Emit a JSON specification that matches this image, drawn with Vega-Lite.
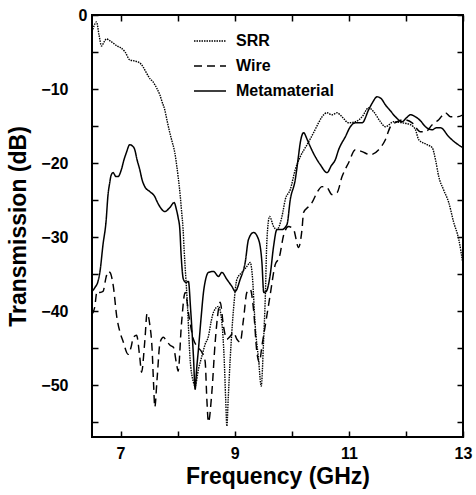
{
  "$schema": "https://vega.github.io/schema/vega-lite/v6.json",
  "width": 371,
  "height": 422,
  "autosize": {"type": "none"},
  "padding": {"left": 92, "top": 15, "right": 13, "bottom": 58},
  "background": "white",
  "config": {
    "view": {"stroke": "black", "strokeWidth": 2},
    "font": "Liberation Sans",
    "axis": {
      "domain": false,
      "tickColor": "black", "tickWidth": 1.5, "tickSize": 6, "offset": -6,
      "labelFont": "Liberation Sans", "labelFontSize": 16, "labelFontWeight": "bold", "labelColor": "black",
      "labelFlush": false, "labelOverlap": false,
      "titleFont": "Liberation Sans", "titleFontSize": 23, "titleFontWeight": "bold", "titleColor": "black",
      "grid": false
    }
  },
  "data": {"values": [
    {"series":"SRR","freq":6.5,"db":-2.29},{"series":"SRR","freq":6.535,"db":-1.48},{"series":"SRR","freq":6.579,"db":-0.94},{"series":"SRR","freq":6.623,"db":-2.7},{"series":"SRR","freq":6.667,"db":-4.18},{"series":"SRR","freq":6.711,"db":-3.64},{"series":"SRR","freq":6.754,"db":-3.23},{"series":"SRR","freq":6.816,"db":-3.5},{"series":"SRR","freq":6.868,"db":-3.77},{"series":"SRR","freq":6.939,"db":-4.18},{"series":"SRR","freq":7.009,"db":-4.45},{"series":"SRR","freq":7.079,"db":-4.99},{"series":"SRR","freq":7.161,"db":-6.06},{"series":"SRR","freq":7.237,"db":-6.2},{"series":"SRR","freq":7.337,"db":-6.47},{"series":"SRR","freq":7.395,"db":-7.01},{"series":"SRR","freq":7.453,"db":-7.82},{"series":"SRR","freq":7.518,"db":-8.63},{"series":"SRR","freq":7.57,"db":-9.03},{"series":"SRR","freq":7.64,"db":-9.97},{"series":"SRR","freq":7.688,"db":-10.78},{"series":"SRR","freq":7.728,"db":-11.73},{"series":"SRR","freq":7.775,"db":-12.8},{"series":"SRR","freq":7.816,"db":-14.29},{"series":"SRR","freq":7.863,"db":-15.9},{"series":"SRR","freq":7.904,"db":-17.12},{"series":"SRR","freq":7.951,"db":-18.6},{"series":"SRR","freq":7.982,"db":-20.22},{"series":"SRR","freq":8.009,"db":-21.83},{"series":"SRR","freq":8.044,"db":-24.26},{"series":"SRR","freq":8.067,"db":-26.28},{"series":"SRR","freq":8.096,"db":-28.98},{"series":"SRR","freq":8.114,"db":-31.67},{"series":"SRR","freq":8.14,"db":-35.04},{"series":"SRR","freq":8.167,"db":-38.41},{"series":"SRR","freq":8.219,"db":-46.5},{"series":"SRR","freq":8.272,"db":-49.46},{"series":"SRR","freq":8.307,"db":-50.13},{"series":"SRR","freq":8.365,"db":-47.84},{"series":"SRR","freq":8.425,"db":-46.09},{"series":"SRR","freq":8.482,"db":-44.47},{"series":"SRR","freq":8.54,"db":-43.4},{"series":"SRR","freq":8.588,"db":-41.37},{"series":"SRR","freq":8.628,"db":-40.16},{"series":"SRR","freq":8.716,"db":-39.35},{"series":"SRR","freq":8.775,"db":-41.51},{"series":"SRR","freq":8.816,"db":-46.5},{"series":"SRR","freq":8.842,"db":-51.89},{"series":"SRR","freq":8.863,"db":-55.53},{"series":"SRR","freq":8.886,"db":-51.89},{"series":"SRR","freq":8.921,"db":-46.5},{"series":"SRR","freq":8.979,"db":-39.76},{"series":"SRR","freq":9.039,"db":-35.71},{"series":"SRR","freq":9.126,"db":-34.77},{"series":"SRR","freq":9.214,"db":-33.96},{"series":"SRR","freq":9.272,"db":-33.42},{"series":"SRR","freq":9.307,"db":-35.04},{"series":"SRR","freq":9.36,"db":-42.05},{"series":"SRR","freq":9.418,"db":-46.5},{"series":"SRR","freq":9.465,"db":-50.13},{"series":"SRR","freq":9.505,"db":-44.2},{"series":"SRR","freq":9.535,"db":-38.41},{"series":"SRR","freq":9.565,"db":-30.32},{"series":"SRR","freq":9.611,"db":-27.22},{"series":"SRR","freq":9.681,"db":-28.57},{"series":"SRR","freq":9.74,"db":-28.98},{"series":"SRR","freq":9.828,"db":-27.22},{"series":"SRR","freq":9.886,"db":-24.93},{"series":"SRR","freq":9.974,"db":-23.58},{"series":"SRR","freq":10.061,"db":-20.89},{"series":"SRR","freq":10.149,"db":-19.14},{"series":"SRR","freq":10.267,"db":-17.52},{"series":"SRR","freq":10.382,"db":-15.9},{"series":"SRR","freq":10.47,"db":-14.56},{"series":"SRR","freq":10.53,"db":-13.75},{"series":"SRR","freq":10.618,"db":-13.21},{"series":"SRR","freq":10.705,"db":-13.48},{"series":"SRR","freq":10.793,"db":-13.21},{"series":"SRR","freq":10.881,"db":-13.75},{"series":"SRR","freq":10.996,"db":-14.56},{"series":"SRR","freq":11.114,"db":-14.42},{"series":"SRR","freq":11.232,"db":-13.75},{"series":"SRR","freq":11.347,"db":-12.53},{"series":"SRR","freq":11.435,"db":-13.07},{"series":"SRR","freq":11.553,"db":-14.42},{"series":"SRR","freq":11.64,"db":-15.09},{"series":"SRR","freq":11.786,"db":-14.42},{"series":"SRR","freq":11.933,"db":-14.56},{"series":"SRR","freq":12.079,"db":-14.82},{"series":"SRR","freq":12.167,"db":-15.5},{"series":"SRR","freq":12.225,"db":-16.85},{"series":"SRR","freq":12.372,"db":-17.52},{"series":"SRR","freq":12.46,"db":-17.92},{"series":"SRR","freq":12.518,"db":-19.54},{"series":"SRR","freq":12.575,"db":-21.83},{"series":"SRR","freq":12.658,"db":-23.58},{"series":"SRR","freq":12.751,"db":-25.34},{"series":"SRR","freq":12.833,"db":-27.9},{"series":"SRR","freq":12.926,"db":-30.32},{"series":"SRR","freq":13.0,"db":-33.69},
    {"series":"Wire","freq":6.5,"db":-40.43},{"series":"Wire","freq":6.547,"db":-39.49},{"series":"Wire","freq":6.588,"db":-37.33},{"series":"Wire","freq":6.64,"db":-37.47},{"series":"Wire","freq":6.693,"db":-37.33},{"series":"Wire","freq":6.746,"db":-35.44},{"series":"Wire","freq":6.781,"db":-34.64},{"series":"Wire","freq":6.816,"db":-34.77},{"series":"Wire","freq":6.874,"db":-36.66},{"series":"Wire","freq":6.933,"db":-40.7},{"series":"Wire","freq":6.991,"db":-42.86},{"series":"Wire","freq":7.044,"db":-44.07},{"series":"Wire","freq":7.132,"db":-45.82},{"series":"Wire","freq":7.184,"db":-44.88},{"series":"Wire","freq":7.225,"db":-43.53},{"series":"Wire","freq":7.281,"db":-43.26},{"series":"Wire","freq":7.337,"db":-46.23},{"series":"Wire","freq":7.368,"db":-48.25},{"series":"Wire","freq":7.425,"db":-44.07},{"series":"Wire","freq":7.465,"db":-40.3},{"series":"Wire","freq":7.512,"db":-41.78},{"series":"Wire","freq":7.553,"db":-45.15},{"series":"Wire","freq":7.579,"db":-49.87},{"series":"Wire","freq":7.6,"db":-52.96},{"series":"Wire","freq":7.64,"db":-49.19},{"series":"Wire","freq":7.693,"db":-44.2},{"series":"Wire","freq":7.751,"db":-43.53},{"series":"Wire","freq":7.798,"db":-43.94},{"series":"Wire","freq":7.868,"db":-44.61},{"series":"Wire","freq":7.926,"db":-44.88},{"series":"Wire","freq":7.982,"db":-47.17},{"series":"Wire","freq":8.009,"db":-48.11},{"series":"Wire","freq":8.067,"db":-41.78},{"series":"Wire","freq":8.132,"db":-37.47},{"series":"Wire","freq":8.202,"db":-40.84},{"series":"Wire","freq":8.277,"db":-43.8},{"series":"Wire","freq":8.337,"db":-44.74},{"series":"Wire","freq":8.425,"db":-45.55},{"series":"Wire","freq":8.482,"db":-46.77},{"series":"Wire","freq":8.512,"db":-51.89},{"series":"Wire","freq":8.54,"db":-54.99},{"series":"Wire","freq":8.6,"db":-50.94},{"series":"Wire","freq":8.658,"db":-44.2},{"series":"Wire","freq":8.716,"db":-39.76},{"series":"Wire","freq":8.746,"db":-38.81},{"series":"Wire","freq":8.804,"db":-42.05},{"series":"Wire","freq":8.863,"db":-43.8},{"series":"Wire","freq":8.921,"db":-43.4},{"series":"Wire","freq":8.979,"db":-42.86},{"series":"Wire","freq":9.039,"db":-43.8},{"series":"Wire","freq":9.096,"db":-44.2},{"series":"Wire","freq":9.154,"db":-41.11},{"series":"Wire","freq":9.214,"db":-37.47},{"series":"Wire","freq":9.272,"db":-37.06},{"series":"Wire","freq":9.33,"db":-39.76},{"series":"Wire","freq":9.389,"db":-45.55},{"series":"Wire","freq":9.43,"db":-46.9},{"series":"Wire","freq":9.482,"db":-44.47},{"series":"Wire","freq":9.553,"db":-41.11},{"series":"Wire","freq":9.623,"db":-37.74},{"series":"Wire","freq":9.711,"db":-33.69},{"series":"Wire","freq":9.781,"db":-32.75},{"series":"Wire","freq":9.856,"db":-29.78},{"series":"Wire","freq":9.944,"db":-28.57},{"series":"Wire","freq":10.032,"db":-28.98},{"series":"Wire","freq":10.119,"db":-31.4},{"series":"Wire","freq":10.179,"db":-28.98},{"series":"Wire","freq":10.207,"db":-26.68},{"series":"Wire","freq":10.295,"db":-25.88},{"series":"Wire","freq":10.354,"db":-25.34},{"series":"Wire","freq":10.442,"db":-23.99},{"series":"Wire","freq":10.53,"db":-23.18},{"series":"Wire","freq":10.618,"db":-23.32},{"series":"Wire","freq":10.705,"db":-24.26},{"series":"Wire","freq":10.793,"db":-23.99},{"series":"Wire","freq":10.881,"db":-21.83},{"series":"Wire","freq":10.996,"db":-19.95},{"series":"Wire","freq":11.114,"db":-18.19},{"series":"Wire","freq":11.232,"db":-18.46},{"series":"Wire","freq":11.377,"db":-18.87},{"series":"Wire","freq":11.523,"db":-18.19},{"series":"Wire","freq":11.64,"db":-16.85},{"series":"Wire","freq":11.728,"db":-15.09},{"series":"Wire","freq":11.846,"db":-14.42},{"series":"Wire","freq":11.961,"db":-14.15},{"series":"Wire","freq":12.109,"db":-14.56},{"series":"Wire","freq":12.254,"db":-15.77},{"series":"Wire","freq":12.342,"db":-15.77},{"series":"Wire","freq":12.46,"db":-14.82},{"series":"Wire","freq":12.575,"db":-14.15},{"series":"Wire","freq":12.693,"db":-13.21},{"series":"Wire","freq":12.781,"db":-13.75},{"series":"Wire","freq":12.898,"db":-13.75},{"series":"Wire","freq":13.0,"db":-13.48},
    {"series":"Metamaterial","freq":6.5,"db":-37.33},{"series":"Metamaterial","freq":6.553,"db":-36.79},{"series":"Metamaterial","freq":6.605,"db":-35.98},{"series":"Metamaterial","freq":6.64,"db":-34.64},{"series":"Metamaterial","freq":6.693,"db":-31.0},{"series":"Metamaterial","freq":6.746,"db":-27.9},{"series":"Metamaterial","freq":6.781,"db":-24.26},{"series":"Metamaterial","freq":6.811,"db":-22.64},{"series":"Metamaterial","freq":6.833,"db":-21.7},{"series":"Metamaterial","freq":6.868,"db":-21.29},{"series":"Metamaterial","freq":6.921,"db":-21.83},{"series":"Metamaterial","freq":6.956,"db":-21.83},{"series":"Metamaterial","freq":7.014,"db":-20.89},{"series":"Metamaterial","freq":7.061,"db":-19.54},{"series":"Metamaterial","freq":7.102,"db":-18.6},{"series":"Metamaterial","freq":7.161,"db":-17.52},{"series":"Metamaterial","freq":7.202,"db":-17.65},{"series":"Metamaterial","freq":7.249,"db":-18.19},{"series":"Metamaterial","freq":7.289,"db":-19.54},{"series":"Metamaterial","freq":7.337,"db":-20.89},{"series":"Metamaterial","freq":7.377,"db":-22.24},{"series":"Metamaterial","freq":7.425,"db":-23.18},{"series":"Metamaterial","freq":7.512,"db":-23.85},{"series":"Metamaterial","freq":7.6,"db":-24.53},{"series":"Metamaterial","freq":7.64,"db":-25.2},{"series":"Metamaterial","freq":7.688,"db":-25.88},{"series":"Metamaterial","freq":7.775,"db":-26.55},{"series":"Metamaterial","freq":7.863,"db":-26.01},{"series":"Metamaterial","freq":7.939,"db":-25.34},{"series":"Metamaterial","freq":7.979,"db":-26.28},{"series":"Metamaterial","freq":8.009,"db":-27.36},{"series":"Metamaterial","freq":8.039,"db":-28.98},{"series":"Metamaterial","freq":8.061,"db":-32.35},{"series":"Metamaterial","freq":8.102,"db":-35.71},{"series":"Metamaterial","freq":8.149,"db":-36.12},{"series":"Metamaterial","freq":8.189,"db":-35.98},{"series":"Metamaterial","freq":8.228,"db":-39.76},{"series":"Metamaterial","freq":8.277,"db":-46.09},{"series":"Metamaterial","freq":8.307,"db":-50.54},{"series":"Metamaterial","freq":8.333,"db":-47.84},{"series":"Metamaterial","freq":8.365,"db":-45.15},{"series":"Metamaterial","freq":8.412,"db":-40.84},{"series":"Metamaterial","freq":8.453,"db":-37.47},{"series":"Metamaterial","freq":8.491,"db":-35.71},{"series":"Metamaterial","freq":8.54,"db":-34.77},{"series":"Metamaterial","freq":8.628,"db":-34.64},{"series":"Metamaterial","freq":8.716,"db":-35.31},{"series":"Metamaterial","freq":8.775,"db":-34.77},{"series":"Metamaterial","freq":8.863,"db":-35.71},{"series":"Metamaterial","freq":8.951,"db":-36.66},{"series":"Metamaterial","freq":9.009,"db":-37.33},{"series":"Metamaterial","freq":9.096,"db":-35.71},{"series":"Metamaterial","freq":9.184,"db":-33.42},{"series":"Metamaterial","freq":9.242,"db":-30.32},{"series":"Metamaterial","freq":9.33,"db":-29.38},{"series":"Metamaterial","freq":9.418,"db":-30.32},{"series":"Metamaterial","freq":9.477,"db":-33.42},{"series":"Metamaterial","freq":9.509,"db":-37.47},{"series":"Metamaterial","freq":9.553,"db":-37.33},{"series":"Metamaterial","freq":9.623,"db":-35.04},{"series":"Metamaterial","freq":9.681,"db":-31.27},{"series":"Metamaterial","freq":9.74,"db":-28.98},{"series":"Metamaterial","freq":9.828,"db":-28.98},{"series":"Metamaterial","freq":9.916,"db":-28.3},{"series":"Metamaterial","freq":9.974,"db":-24.93},{"series":"Metamaterial","freq":10.061,"db":-22.24},{"series":"Metamaterial","freq":10.114,"db":-19.27},{"series":"Metamaterial","freq":10.149,"db":-17.25},{"series":"Metamaterial","freq":10.207,"db":-15.9},{"series":"Metamaterial","freq":10.272,"db":-16.85},{"series":"Metamaterial","freq":10.325,"db":-17.79},{"series":"Metamaterial","freq":10.412,"db":-19.14},{"series":"Metamaterial","freq":10.5,"db":-20.22},{"series":"Metamaterial","freq":10.618,"db":-21.29},{"series":"Metamaterial","freq":10.693,"db":-20.35},{"series":"Metamaterial","freq":10.763,"db":-19.54},{"series":"Metamaterial","freq":10.821,"db":-18.19},{"series":"Metamaterial","freq":10.939,"db":-16.44},{"series":"Metamaterial","freq":11.026,"db":-15.09},{"series":"Metamaterial","freq":11.114,"db":-14.56},{"series":"Metamaterial","freq":11.232,"db":-14.56},{"series":"Metamaterial","freq":11.347,"db":-12.8},{"series":"Metamaterial","freq":11.412,"db":-11.86},{"series":"Metamaterial","freq":11.495,"db":-11.05},{"series":"Metamaterial","freq":11.57,"db":-11.32},{"series":"Metamaterial","freq":11.64,"db":-12.13},{"series":"Metamaterial","freq":11.728,"db":-12.94},{"series":"Metamaterial","freq":11.816,"db":-13.75},{"series":"Metamaterial","freq":11.933,"db":-14.42},{"series":"Metamaterial","freq":12.009,"db":-13.88},{"series":"Metamaterial","freq":12.079,"db":-13.48},{"series":"Metamaterial","freq":12.167,"db":-13.75},{"series":"Metamaterial","freq":12.254,"db":-14.29},{"series":"Metamaterial","freq":12.342,"db":-15.09},{"series":"Metamaterial","freq":12.46,"db":-15.5},{"series":"Metamaterial","freq":12.535,"db":-15.23},{"series":"Metamaterial","freq":12.605,"db":-15.23},{"series":"Metamaterial","freq":12.751,"db":-16.44},{"series":"Metamaterial","freq":12.868,"db":-17.25},{"series":"Metamaterial","freq":13.0,"db":-17.92}
  ]},
  "layer": [
    {
      "mark": {"type": "line", "color": "black", "interpolate": "monotone", "clip": true},
      "encoding": {
        "x": {"field": "freq", "type": "quantitative",
          "scale": {"domain": [6.5, 13], "nice": false, "zero": false},
          "axis": {"orient": "bottom", "values": [7, 8, 9, 10, 11, 12, 13],
            "labelExpr": "datum.value % 2 == 1 ? datum.label : ''",
            "title": "Frequency (GHz)", "labelPadding": 8, "titlePadding": 4}},
        "y": {"field": "db", "type": "quantitative",
          "scale": {"domain": [-57, 0], "nice": false},
          "axis": {"orient": "left", "values": [0, -5, -10, -15, -20, -25, -30, -35, -40, -45, -50, -55],
            "labelExpr": "datum.value % 10 == 0 ? datum.label : ''",
            "labelPadding": {"condition": {"test": "datum.value == 0", "value": 5}, "value": 24},
            "title": "Transmission (dB)", "titlePadding": 10}},
        "strokeDash": {"field": "series", "type": "nominal",
          "scale": {"domain": ["SRR", "Wire", "Metamaterial"], "range": [[1.5, 1], [8, 5], [1, 0]]},
          "legend": {"orient": "none", "legendX": 101, "legendY": 9, "title": null, "symbolType": "stroke",
            "symbolSize": 1024, "symbolStrokeColor": "black", "labelFont": "Liberation Sans", "labelFontSize": 16,
            "labelFontWeight": "bold", "labelColor": "black", "labelOffset": 9, "rowPadding": -1, "padding": 0}},
        "strokeWidth": {"field": "series", "type": "nominal",
          "scale": {"domain": ["SRR", "Wire", "Metamaterial"], "range": [1.4, 1.5, 3]},
          "legend": {"orient": "none", "legendX": 101, "legendY": 9, "title": null, "symbolType": "stroke",
            "symbolSize": 1024, "symbolStrokeColor": "black", "labelFont": "Liberation Sans", "labelFontSize": 16,
            "labelFontWeight": "bold", "labelColor": "black", "labelOffset": 9, "rowPadding": -1, "padding": 0}}
      }
    },
    {
      "mark": {"type": "point", "opacity": 0},
      "encoding": {
        "x": {"field": "freq", "type": "quantitative",
          "axis": {"orient": "top", "values": [7, 8, 9, 10, 11, 12, 13], "labels": false, "title": null}},
        "y": {"field": "db", "type": "quantitative",
          "axis": {"orient": "right", "values": [0, -5, -10, -15, -20, -25, -30, -35, -40, -45, -50, -55], "labels": false, "title": null}}
      }
    }
  ],
  "resolve": {"axis": {"x": "independent", "y": "independent"}}
}
